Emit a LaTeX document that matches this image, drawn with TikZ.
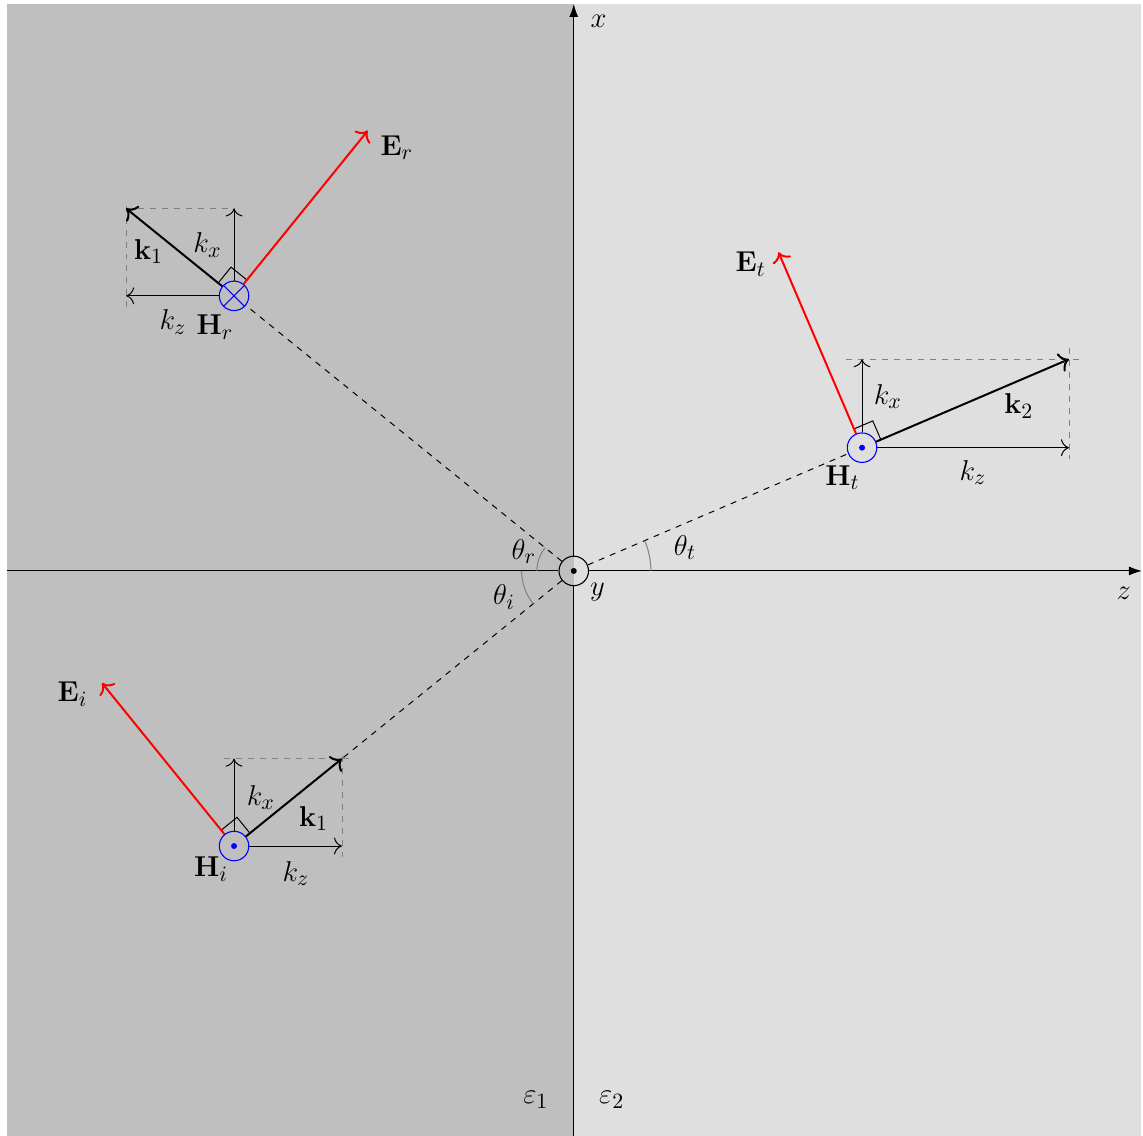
\documentclass[tikz,border=0pt]{standalone}
\usetikzlibrary{calc,arrows.meta}
\begin{document}
\begin{tikzpicture}[font=\fontsize{15.5}{18}\selectfont,
  hcirc/.style={circle,draw=blue,line width=0.55pt,minimum size=0.52cm,inner sep=0pt},
  evec/.style={red,line width=1pt,-{To[scale=1.25]}},
  kvec/.style={black,line width=1pt,-{To[scale=1.25]}},
  comp/.style={black,line width=0.5pt,-{To[scale=1.5]}},
  guide/.style={gray,dashed,line width=0.5pt},
  ray/.style={black,dashed,line width=0.5pt},
  ang/.style={gray,line width=0.5pt},
  rmark/.style={black,line width=0.5pt},
  axis/.style={black,line width=0.5pt}]

\useasboundingbox (-10.12,-9.96) rectangle (10.04,10.07);
\fill[gray!50] (-10,-10) rectangle (0,10);
\fill[gray!25] (0,-10) rectangle (10,10);

% origin
\node[circle,draw,line width=0.55pt,minimum size=0.52cm,inner sep=0pt] (O) at (0,0) {};
\fill (O) circle (1.5pt);
\coordinate (zl) at (-10,0);
\coordinate (zr) at (10.02,0);
\coordinate (xb) at (0,-10);
\coordinate (xt) at (0,10);
\draw[axis] (zl) -- (O);
\draw[axis,-{Latex[length=6.5pt,width=4.5pt]}] (O) -- (zr);
\draw[axis] (xb) -- (O);
\draw[axis,-{Latex[length=6.5pt,width=4.5pt]}] (O) -- (xt);

\node (lx) at (0.44,9.7) {$x$};
\node (lz) at (9.7,-0.39) {$z$};
\node (ly) at (0.42,-0.37) {$y$};
\node (le1) at (-0.67,-9.33) {$\varepsilon_1$};
\node (le2) at (0.67,-9.33) {$\varepsilon_2$};

% H nodes
\node[hcirc] (Hi) at (219:7.71) {};
\node[hcirc] (Hr) at (141:7.71) {};
\node[hcirc] (Ht) at (23.15:5.53) {};
\fill[blue] (Hi) circle (1.5pt);
\fill[blue] (Ht) circle (1.5pt);
\draw[blue,line width=0.55pt] (Hr.north west) -- (Hr.south east);
\draw[blue,line width=0.55pt] (Hr.north east) -- (Hr.south west);

% rays
\draw[ray] (O) -- (Hi);
\draw[ray] (O) -- (Hr);
\draw[ray] (O) -- (Ht);

% angle arcs
\draw[ang] (-0.65,0) arc (180:141:0.65);
\draw[ang] (-0.92,0) arc (180:219:0.92);
\draw[ang] (1.36,0) arc (0:23.15:1.36);
\node (lthr) at (-0.88,0.34) {$\theta_r$};
\node (lthi) at (-1.23,-0.46) {$\theta_i$};
\node (ltht) at (1.96,0.41) {$\theta_t$};

% ---------- incident ----------
\coordinate (ki) at ($(Hi)+(39:2.45)$);
\coordinate (kxi) at ($(Hi)+(0,1.542)$);
\coordinate (kzi) at ($(Hi)+(1.904,0)$);
\coordinate (Ei) at ($(Hi)+(129:3.7)$);
\draw[guide] ($(Hi)+(-0.18,1.542)$) -- ($(Hi)+(2.1,1.542)$);
\draw[guide] ($(Hi)+(1.904,1.59)$) -- ($(Hi)+(1.904,-0.2)$);
\draw[comp] (Hi) -- (kxi);
\draw[comp] (Hi) -- (kzi);
\draw[rmark] ($(Hi)+(39:0.36)$) -- ($(Hi)+(39:0.36)+(129:0.36)$) -- ($(Hi)+(129:0.36)$);
\draw[kvec] (Hi) -- (ki);
\draw[evec] (Hi) -- (Ei);
\node (lHi) at (-6.40,-5.26) {$\mathbf{H}_i$};
\node (lEi) at (-8.84,-2.17) {$\mathbf{E}_i$};
\node (lki) at (-4.59,-4.37) {$\mathbf{k}_1$};
\node (lkxi) at (-5.52,-4.0) {$k_x$};
\node (lkzi) at (-4.90,-5.34) {$k_z$};

% ---------- reflected ----------
\coordinate (kr) at ($(Hr)+(141:2.45)$);
\coordinate (kxr) at ($(Hr)+(0,1.542)$);
\coordinate (kzr) at ($(Hr)+(-1.904,0)$);
\coordinate (Er) at ($(Hr)+(51:3.75)$);
\draw[guide] ($(Hr)+(-1.904,1.542)$) -- ($(Hr)+(0,1.542)$);
\draw[guide] ($(Hr)+(-1.904,1.59)$) -- ($(Hr)+(-1.904,-0.2)$);
\draw[comp] (Hr) -- (kxr);
\draw[comp] (Hr) -- (kzr);
\draw[rmark] ($(Hr)+(141:0.36)$) -- ($(Hr)+(141:0.36)+(51:0.36)$) -- ($(Hr)+(51:0.36)$);
\draw[kvec] (Hr) -- (kr);
\draw[evec] (Hr) -- (Er);
\node (lHr) at (-6.33,4.30) {$\mathbf{H}_r$};
\node (lEr) at (-3.12,7.46) {$\mathbf{E}_r$};
\node (lkr) at (-7.50,5.63) {$\mathbf{k}_1$};
\node (lkxr) at (-6.46,5.75) {$k_x$};
\node (lkzr) at (-7.07,4.39) {$k_z$};

% ---------- transmitted ----------
\coordinate (kt) at ($(Ht)+(23.15:3.97)$);
\coordinate (kxt) at ($(Ht)+(0,1.561)$);
\coordinate (kzt) at ($(Ht)+(3.65,0)$);
\coordinate (Et) at ($(Ht)+(113.15:3.75)$);
\draw[guide] ($(Ht)+(-0.28,1.561)$) -- ($(Ht)+(3.83,1.561)$);
\draw[guide] ($(Ht)+(3.65,1.76)$) -- ($(Ht)+(3.65,-0.2)$);
\draw[comp] (Ht) -- (kxt);
\draw[comp] (Ht) -- (kzt);
\draw[rmark] ($(Ht)+(23.15:0.36)$) -- ($(Ht)+(23.15:0.36)+(113.15:0.36)$) -- ($(Ht)+(113.15:0.36)$);
\draw[kvec] (Ht) -- (kt);
\draw[evec] (Ht) -- (Et);
\node (lHt) at (4.74,1.64) {$\mathbf{H}_t$};
\node (lEt) at (3.12,5.41) {$\mathbf{E}_t$};
\node (lkt) at (7.85,2.91) {$\mathbf{k}_2$};
\node (lkxt) at (5.54,3.07) {$k_x$};
\node (lkzt) at (7.04,1.73) {$k_z$};
\end{tikzpicture}
\end{document}
